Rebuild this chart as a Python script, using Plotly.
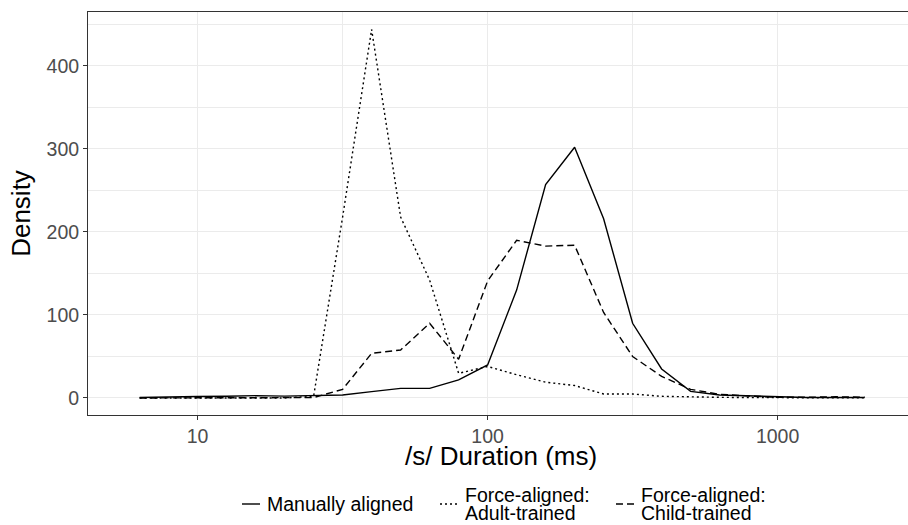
import plotly.graph_objects as go

duration_ms = [6.31, 7.94, 10.0, 12.59, 15.85, 19.95, 25.12, 31.62, 39.81, 50.12,
               63.10, 79.43, 100.0, 125.89, 158.49, 199.53, 251.19, 316.23, 398.11,
               501.19, 630.96, 794.33, 1000.0, 1258.93, 1584.89, 1995.26]

manual = [0.5, 1.5, 1.8, 2.0, 2.8, 2.2, 2.5, 3.6, 7.6, 11.6, 11.6, 21.7, 39.8,
          130, 257, 302, 216, 90, 35, 8, 3.6, 2.4, 0.8, 0.5, 0.5, 0.5]
adult = [0, 0, 0, 0, 0, 0, 2, 218, 444, 218, 142, 29.7, 38, 28, 19, 15, 4.8, 4.8,
         2.0, 1.2, 0.8, 0.5, 0.3, 0.2, 0.1, 0.1]
child = [0, 0.3, 0.3, 0.3, 0.3, 0.3, 0.5, 10.4, 53.8, 57.8, 90, 46.6, 141, 190,
         183, 184, 103, 50, 26, 10.4, 4.4, 2.4, 0.8, 0.8, 1.5, 1.0]

series_names = ["Manually aligned", "Force-aligned: Adult-trained",
                "Force-aligned: Child-trained"]
legend_lines = [["Manually aligned"], ["Force-aligned:", "Adult-trained"],
                ["Force-aligned:", "Child-trained"]]
series_dash = ["solid", "2px,3px", "7px,4px"]

x_tickvals = [10, 100, 1000]
x_ticktext = ["10", "100", "1000"]
y_tickvals = [0, 100, 200, 300, 400]
x_title = "/s/ Duration (ms)"
y_title = "Density"

W, H = 908, 525
L, R, T, B = 88, 0, 12, 110
PW, PH = W - L - R, H - T - B


def px_x(x):
    return (x - L) / PW


def px_y(y):
    return (H - B - y) / PH


fig = go.Figure()
for name, vals, dash in zip(series_names, [manual, adult, child], series_dash):
    fig.add_trace(go.Scatter(x=duration_ms, y=vals, mode="lines", name=name,
                             showlegend=False,
                             line=dict(color="black", width=1.4, dash=dash)))

# manual legend (keys and labels), positioned in pixels below the panel
legend_key_x = [(242, 260), (440, 458), (616, 634)]
legend_text_x = [265, 463, 639]
legend_y = 504
line_gap = 18.5
for (k0, k1), tx, lines, dash in zip(legend_key_x, legend_text_x, legend_lines, series_dash):
    fig.add_shape(type="line", xref="paper", yref="paper",
                  x0=px_x(k0), x1=px_x(k1), y0=px_y(legend_y), y1=px_y(legend_y),
                  line=dict(color="black", width=1.4, dash=dash))
    n = len(lines)
    for i, t in enumerate(lines):
        yy = legend_y + (i - (n - 1) / 2) * line_gap
        fig.add_annotation(xref="paper", yref="paper", x=px_x(tx), y=px_y(yy),
                           text=t, showarrow=False, xanchor="left", yanchor="middle",
                           font=dict(size=19.5, color="black"))

# x-axis title placed as text below the tick labels
fig.add_annotation(xref="paper", yref="paper", x=px_x(501), y=px_y(456),
                   text=x_title, showarrow=False, xanchor="center", yanchor="middle",
                   font=dict(size=26, color="black"))

grid = "#ebebeb"
fig.update_layout(
    width=W, height=H,
    margin=dict(l=L, r=R, t=T, b=B, autoexpand=False),
    plot_bgcolor="white", paper_bgcolor="white",
    font=dict(family="Liberation Sans, Arial, sans-serif", color="black"),
    showlegend=False,
    xaxis=dict(type="log", range=[0.622, 0.622 + PW / 290.0],
               tickvals=x_tickvals, ticktext=x_ticktext,
               showgrid=True, gridcolor=grid, gridwidth=1.2,
               minor=dict(tickvals=[10**1.5, 10**2.5], showgrid=True,
                          gridcolor=grid, gridwidth=0.7, ticks=""),
               ticks="outside", ticklen=4, tickcolor="#333333", tickwidth=1,
               tickfont=dict(size=19.5, color="#4d4d4d"), ticklabelstandoff=0,
               showline=True, linecolor="#333333", linewidth=1, mirror=True,
               zeroline=False, automargin=False),
    yaxis=dict(range=[-20.5, 465], tickvals=y_tickvals,
               showgrid=True, gridcolor=grid, gridwidth=1.2,
               minor=dict(dtick=50, tick0=0, showgrid=True, gridcolor=grid,
                          gridwidth=0.7, ticks=""),
               ticks="outside", ticklen=4, tickcolor="#333333", tickwidth=1,
               tickfont=dict(size=19.5, color="#4d4d4d"), ticklabelstandoff=0,
               showline=True, linecolor="#333333", linewidth=1, mirror=True,
               zeroline=False, automargin=False,
               title=dict(text=y_title, font=dict(size=26, color="black"),
                          standoff=8)),
)

fig.write_html("out.html", config={"displayModeBar": False},
               post_script="document.body.style.margin='0';"
                           "document.documentElement.style.overflow='hidden';")
